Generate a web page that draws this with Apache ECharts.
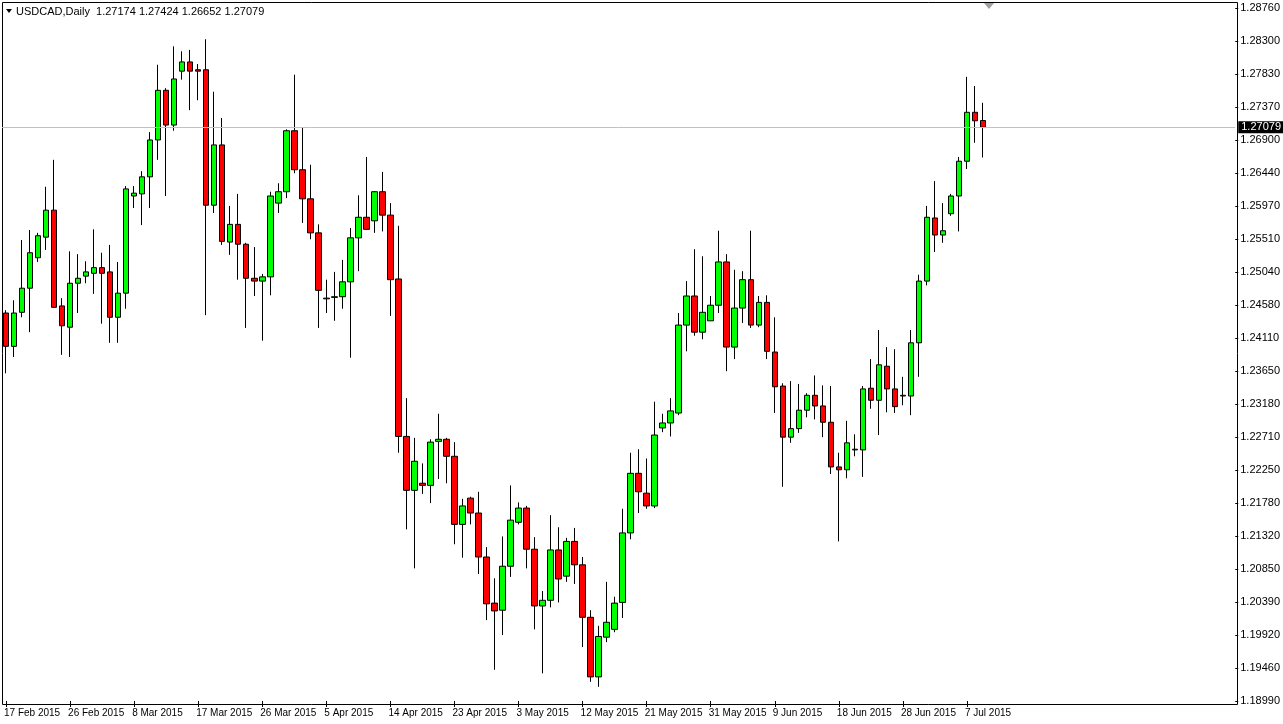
<!DOCTYPE html>
<html>
<head>
<meta charset="utf-8">
<script src="https://cdn.jsdelivr.net/npm/echarts@6/dist/echarts.min.js"></script>
<style>
  html, body { margin: 0; padding: 0; background: #fff; }
  #chart { width: 1283px; height: 724px; }
</style>
</head>
<body>
<div id="chart"></div>
<script>
'use strict';

// daily bars, Sun-Fri, first bar 17 Feb 2015
var startDate = '2015-02-17';
var barCount = 123;
var slotCount = 154;

var opens = [
    1.2446, 1.2399, 1.2447, 1.2481, 1.2524, 1.2553, 1.2591, 1.2456, 1.2426, 1.2488,
    1.2498, 1.2502, 1.2510, 1.2504, 1.2440, 1.2474, 1.2611, 1.2614, 1.2638, 1.2690,
    1.2760, 1.2711, 1.2787, 1.2800, 1.2789, 1.2789, 1.2598, 1.2683, 1.2546, 1.2571,
    1.2543, 1.2495, 1.2491, 1.2497, 1.2601, 1.2617, 1.2703, 1.2648, 1.2607, 1.2559,
    1.2467, 1.2468, 1.2469, 1.2490, 1.2552, 1.2581, 1.2576, 1.2617, 1.2584, 1.2494,
    1.2272, 1.2196, 1.2206, 1.2203, 1.2265, 1.2268, 1.2244, 1.2148, 1.2185, 1.2164,
    1.2102, 1.2037, 1.2027, 1.2089, 1.2151, 1.2171, 1.2113, 1.2033, 1.2041, 1.2112,
    1.2075, 1.2124, 1.2091, 1.2017, 1.1933, 1.1989, 1.2000, 1.2038, 1.2136, 1.2220,
    1.2192, 1.2174, 1.2284, 1.2291, 1.2305, 1.2429, 1.2470, 1.2419, 1.2435, 1.2457,
    1.2518, 1.2398, 1.2453, 1.2493, 1.2429, 1.2461, 1.2391, 1.2343, 1.2271, 1.2283,
    1.2309, 1.2330, 1.2315, 1.2292, 1.2229, 1.2225, 1.2253, 1.2253, 1.2340, 1.2323,
    1.2371, 1.2339, 1.2329, 1.2329, 1.2404, 1.2491, 1.2580, 1.2556, 1.2586, 1.2611,
    1.2660, 1.2729, 1.27174
];
var closes = [
    1.2399, 1.2446, 1.2481, 1.2531, 1.2555, 1.2591, 1.2454, 1.2428, 1.2488, 1.2495,
    1.2504, 1.2510, 1.2502, 1.2440, 1.2474, 1.2621, 1.2615, 1.2638, 1.2690, 1.2760,
    1.2711, 1.2776, 1.2800, 1.2787, 1.2787, 1.2598, 1.2683, 1.2547, 1.2571, 1.2543,
    1.2495, 1.2491, 1.2497, 1.2611, 1.2617, 1.2703, 1.2648, 1.2607, 1.2559, 1.2478,
    1.2466, 1.2469, 1.2490, 1.2552, 1.2581, 1.2564, 1.2617, 1.2584, 1.2493, 1.2272,
    1.2196, 1.2237, 1.2203, 1.2264, 1.2268, 1.2244, 1.2148, 1.2174, 1.2164, 1.2102,
    1.2036, 1.2026, 1.2089, 1.2154, 1.2171, 1.2113, 1.2033, 1.2041, 1.2112, 1.2071,
    1.2124, 1.2091, 1.2017, 1.1933, 1.1990, 1.2010, 1.2037, 1.2136, 1.2220, 1.2194,
    1.2174, 1.2274, 1.2291, 1.2308, 1.2429, 1.2470, 1.2419, 1.2447, 1.2457, 1.2518,
    1.2398, 1.2453, 1.2493, 1.2429, 1.2461, 1.2392, 1.2342, 1.2271, 1.2283, 1.2309,
    1.2330, 1.2315, 1.2292, 1.2229, 1.2225, 1.2263, 1.2254, 1.2339, 1.2323, 1.2373,
    1.2339, 1.2314, 1.2330, 1.2404, 1.2491, 1.2581, 1.2556, 1.2562, 1.2611, 1.2660,
    1.2729, 1.2717, 1.27079
];
var lows = [
    1.2361, 1.2384, 1.2440, 1.2419, 1.2518, 1.2535, 1.2453, 1.2387, 1.2384, 1.2446,
    1.2488, 1.2473, 1.2431, 1.2404, 1.2404, 1.2452, 1.2594, 1.2570, 1.2594, 1.2662,
    1.2611, 1.2703, 1.2775, 1.2732, 1.2746, 1.2443, 1.2587, 1.2542, 1.2528, 1.2493,
    1.2425, 1.2470, 1.2407, 1.2471, 1.2587, 1.2608, 1.2643, 1.2573, 1.2550, 1.2425,
    1.2446, 1.2435, 1.2452, 1.2383, 1.2505, 1.2563, 1.2559, 1.2561, 1.2442, 1.2249,
    1.2141, 1.2086, 1.2191, 1.2178, 1.2212, 1.2206, 1.2120, 1.2101, 1.2148, 1.2078,
    1.2013, 1.1943, 1.1992, 1.2074, 1.2148, 1.2086, 1.2000, 1.1938, 1.2031, 1.2038,
    1.2067, 1.2064, 1.1975, 1.1926, 1.1919, 1.1982, 1.1996, 1.2016, 1.2127, 1.2164,
    1.2170, 1.2171, 1.2278, 1.2272, 1.2302, 1.2392, 1.2414, 1.2409, 1.2435, 1.2446,
    1.2364, 1.2381, 1.2432, 1.2425, 1.2426, 1.2381, 1.2305, 1.2201, 1.2263, 1.2277,
    1.2299, 1.2296, 1.2271, 1.2219, 1.2124, 1.2213, 1.2244, 1.2215, 1.2311, 1.2274,
    1.2306, 1.2305, 1.2316, 1.2302, 1.2356, 1.2485, 1.2532, 1.2545, 1.2583, 1.2561,
    1.2649, 1.2686, 1.26652
];
var highs = [
    1.2450, 1.2464, 1.2549, 1.2563, 1.2559, 1.2624, 1.2662, 1.2467, 1.2533, 1.2529,
    1.2519, 1.2564, 1.2531, 1.2542, 1.2518, 1.2625, 1.2625, 1.2646, 1.2701, 1.2796,
    1.2763, 1.2822, 1.2815, 1.2817, 1.2797, 1.2832, 1.2758, 1.2721, 1.2597, 1.2614,
    1.2545, 1.2539, 1.2501, 1.2617, 1.2629, 1.2705, 1.2782, 1.2708, 1.2655, 1.2571,
    1.2493, 1.2504, 1.2521, 1.2566, 1.2612, 1.2666, 1.2618, 1.2645, 1.2601, 1.2569,
    1.2326, 1.2270, 1.2234, 1.2268, 1.2304, 1.2270, 1.2264, 1.2184, 1.2187, 1.2194,
    1.2116, 1.2072, 1.2131, 1.2203, 1.2179, 1.2174, 1.2130, 1.2054, 1.2161, 1.2144,
    1.2129, 1.2143, 1.2102, 1.2027, 1.2005, 1.2067, 1.2046, 1.2170, 1.2249, 1.2254,
    1.2241, 1.2321, 1.2304, 1.2326, 1.2446, 1.2491, 1.2536, 1.2526, 1.2470, 1.2562,
    1.2529, 1.2507, 1.2505, 1.2562, 1.2470, 1.2471, 1.2440, 1.2347, 1.2350, 1.2346,
    1.2333, 1.2358, 1.2344, 1.2343, 1.2249, 1.2294, 1.2275, 1.2343, 1.2381, 1.2422,
    1.2398, 1.2395, 1.2356, 1.2422, 1.2500, 1.2597, 1.2632, 1.2601, 1.2614, 1.2666,
    1.2779, 1.2766, 1.27424
];

var yTickLabels = [
    '1.18990', '1.19460', '1.19920', '1.20390', '1.20850', '1.21320', '1.21780',
    '1.22250', '1.22710', '1.23180', '1.23650', '1.24110', '1.24580', '1.25040',
    '1.25510', '1.25970', '1.26440', '1.26900', '1.27370', '1.27830', '1.28300', '1.28760'
];
var yMin = 1.18990;
var yStep = (1.28760 - 1.18990) / 21;
var lastPrice = 1.27079;
var headerText = 'USDCAD,Daily  1.27174 1.27424 1.26652 1.27079';
var monthNames = ['Jan', 'Feb', 'Mar', 'Apr', 'May', 'Jun', 'Jul', 'Aug', 'Sep', 'Oct', 'Nov', 'Dec'];

// build the bar dates (MT4 has Sunday bars, no Saturday)
var categories = [];
var d = new Date(startDate + 'T00:00:00Z');
while (categories.length < slotCount) {
    if (categories.length < barCount) {
        categories.push(d.getUTCDate() + ' ' + monthNames[d.getUTCMonth()] + ' ' + d.getUTCFullYear());
        d.setUTCDate(d.getUTCDate() + 1);
        if (d.getUTCDay() === 6) {
            d.setUTCDate(d.getUTCDate() + 1);
        }
    } else {
        categories.push('');
    }
}

var candles = [];
for (var i = 0; i < barCount; i++) {
    candles.push([opens[i], closes[i], lows[i], highs[i]]);
}

var showLabel = function (index) {
    return index % 8 === 0 && index < barCount;
};

var font = 'Liberation Sans';
var myChart = echarts.init(document.getElementById('chart'));
var option = {
    animation: false,
    backgroundColor: '#fff',
    grid: {left: 2, right: 46, top: 2, bottom: 23},
    xAxis: {
        type: 'category',
        data: categories,
        boundaryGap: true,
        axisLine: {show: false},
        axisTick: {show: true, interval: showLabel, alignWithLabel: true, length: 6, lineStyle: {color: '#000'}},
        axisLabel: {
            interval: showLabel, align: 'left', margin: 7, padding: [0, 0, 0, -2],
            color: '#000', fontFamily: font, fontSize: 10
        },
        splitLine: {show: false}
    },
    yAxis: {
        type: 'value',
        position: 'right',
        min: yMin,
        max: 1.28845,
        interval: yStep,
        scale: true,
        axisLine: {show: false},
        axisTick: {show: true, length: 3, lineStyle: {color: '#000'}},
        axisLabel: {
            showMaxLabel: false,
            margin: 5, color: '#000', fontFamily: font, fontSize: 11,
            formatter: function (v) {
                var k = Math.round((v - yMin) / yStep);
                return yTickLabels[k] || '';
            }
        },
        splitLine: {show: false}
    },
    series: [{
        type: 'candlestick',
        data: candles,
        barWidth: 6,
        itemStyle: {
            color: '#00ff00',
            color0: '#ff0000',
            borderColor: '#000',
            borderColor0: '#000',
            borderWidth: 1
        },
        markLine: {
            silent: true,
            symbol: 'none',
            precision: 5,
            lineStyle: {color: '#c0c0c0', width: 1, type: 'solid'},
            label: {
                position: 'end', distance: 3,
                formatter: lastPrice.toFixed(5),
                backgroundColor: '#000', color: '#fff', padding: [1, 3, 0, 3],
                fontFamily: font, fontSize: 11
            },
            data: [{yAxis: lastPrice}]
        }
    }],
    graphic: [
        {type: 'rect', shape: {x: 2.5, y: 2.5, width: 1235, height: 702}, style: {fill: null, stroke: '#000', lineWidth: 1}, silent: true},
        {type: 'polygon', shape: {points: [[6, 9], [12, 9], [9, 13]]}, style: {fill: '#000'}},
        {type: 'text', left: 16, top: 6, style: {text: headerText, fill: '#000', font: '11px "Liberation Sans"'}},
        {type: 'polygon', shape: {points: [[984, 3], [994, 3], [989, 9]]}, style: {fill: '#a0a0a0'}}
    ]
};
myChart.setOption(option);
</script>
</body>
</html>
